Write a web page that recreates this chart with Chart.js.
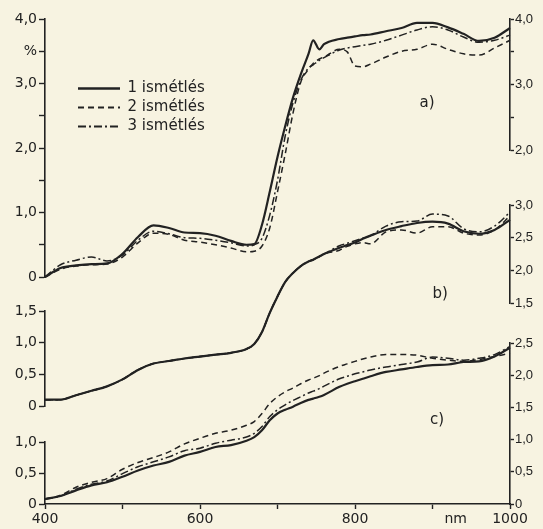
<!DOCTYPE html>
<html>
<head>
<meta charset="utf-8">
<script src="https://cdn.jsdelivr.net/npm/chart.js@4"></script>
<style>
  html, body { margin: 0; padding: 0; background: #f7f3e1; }
  canvas { display: block; }
</style>
</head>
<body>
<canvas id="chart" width="543" height="529"></canvas>
<script>
// --- data ---
const wavelengths = [400, 420, 440, 460, 480, 500, 520, 540, 560, 580, 600, 620, 640, 660, 670, 680, 690, 700, 710, 720,
  730, 740, 746, 754, 760, 780, 790, 800, 810, 820, 840, 860, 880, 900, 920, 940, 960, 980, 1000];

// a) panel
const a1 = [0.00, 0.14, 0.18, 0.20, 0.21, 0.36, 0.62, 0.80, 0.76, 0.69, 0.68, 0.64, 0.56, 0.50, 0.51, 0.81, 1.32, 1.86, 2.34, 2.78,
  3.14, 3.46, 3.67, 3.53, 3.61, 3.69, 3.71, 3.73, 3.75, 3.76, 3.81, 3.86, 3.94, 3.94, 3.87, 3.77, 3.66, 3.71, 3.86];
const a2 = [0.00, 0.12, 0.17, 0.19, 0.20, 0.31, 0.53, 0.68, 0.66, 0.57, 0.54, 0.50, 0.45, 0.39, 0.40, 0.48, 0.76, 1.32, 1.91, 2.54,
  3.02, 3.22, 3.31, 3.38, 3.41, 3.53, 3.49, 3.27, 3.26, 3.30, 3.41, 3.50, 3.53, 3.61, 3.53, 3.46, 3.44, 3.55, 3.67];
const a3 = [0.00, 0.19, 0.26, 0.31, 0.25, 0.34, 0.57, 0.71, 0.67, 0.61, 0.60, 0.57, 0.53, 0.48, 0.50, 0.60, 0.96, 1.50, 2.19, 2.70,
  3.05, 3.24, 3.29, 3.36, 3.40, 3.52, 3.55, 3.57, 3.59, 3.61, 3.67, 3.75, 3.83, 3.88, 3.83, 3.72, 3.64, 3.67, 3.75];

// b) panel
const b1 = [0.10, 0.10, 0.17, 0.24, 0.31, 0.42, 0.57, 0.67, 0.71, 0.75, 0.78, 0.81, 0.84, 0.90, 0.98, 1.17, 1.47, 1.73, 1.96, 2.10,
  2.21, 2.28, 2.31, 2.36, 2.40, 2.50, 2.54, 2.58, 2.64, 2.69, 2.78, 2.84, 2.89, 2.91, 2.88, 2.76, 2.72, 2.78, 2.94];
const b2 = [0.10, 0.10, 0.17, 0.24, 0.31, 0.42, 0.57, 0.67, 0.71, 0.75, 0.78, 0.81, 0.84, 0.90, 0.98, 1.17, 1.47, 1.73, 1.96, 2.10,
  2.21, 2.28, 2.31, 2.36, 2.40, 2.46, 2.52, 2.56, 2.58, 2.56, 2.75, 2.78, 2.73, 2.83, 2.83, 2.73, 2.70, 2.78, 3.00];
const b3 = [0.10, 0.10, 0.17, 0.24, 0.31, 0.42, 0.57, 0.67, 0.71, 0.75, 0.78, 0.81, 0.84, 0.90, 0.98, 1.17, 1.47, 1.73, 1.96, 2.10,
  2.21, 2.28, 2.31, 2.36, 2.40, 2.53, 2.57, 2.61, 2.65, 2.69, 2.84, 2.91, 2.92, 3.03, 3.00, 2.80, 2.75, 2.84, 3.06];

// c) panel
const c1 = [0.08, 0.13, 0.22, 0.30, 0.35, 0.44, 0.54, 0.62, 0.68, 0.78, 0.84, 0.92, 0.95, 1.02, 1.08, 1.19, 1.35, 1.46, 1.52, 1.57,
  1.63, 1.68, 1.70, 1.73, 1.76, 1.89, 1.94, 1.98, 2.02, 2.06, 2.13, 2.17, 2.21, 2.24, 2.25, 2.29, 2.30, 2.38, 2.52];
const c2 = [0.08, 0.14, 0.27, 0.35, 0.41, 0.56, 0.67, 0.75, 0.84, 0.97, 1.06, 1.14, 1.19, 1.27, 1.33, 1.46, 1.62, 1.73, 1.81, 1.87,
  1.94, 2.00, 2.03, 2.07, 2.11, 2.22, 2.26, 2.30, 2.34, 2.37, 2.41, 2.41, 2.40, 2.35, 2.32, 2.30, 2.33, 2.38, 2.43];
const c3 = [0.08, 0.13, 0.24, 0.32, 0.37, 0.49, 0.60, 0.68, 0.76, 0.86, 0.90, 0.98, 1.03, 1.08, 1.14, 1.25, 1.41, 1.52, 1.60, 1.67,
  1.73, 1.79, 1.82, 1.86, 1.90, 2.02, 2.06, 2.10, 2.13, 2.16, 2.21, 2.25, 2.29, 2.37, 2.35, 2.32, 2.35, 2.41, 2.54];

const repLabels = ['1 ismétlés', '2 ismétlés', '3 ismétlés'];

// ticks and their labels
const xTicks = [400, 500, 600, 700, 800, 900, 930, 1000];
const xLabels = ['400', '', '600', '', '800', '', 'nm', '1000'];
const aLeftTicks = [0, 0.5, 1, 1.5, 2, 2.5, 3, 3.5, 4];
const aLeftLabels = ['0', '', '1,0', '', '2,0', '', '3,0', '%', '4,0'];
const bLeftTicks = [0, 0.5, 1, 1.5];
const bLeftLabels = ['0', '0,5', '1,0', '1,5'];
const cLeftTicks = [0, 0.5, 1];
const cLeftLabels = ['0', '0,5', '1,0'];
const aRightTicks = [2, 2.5, 3, 3.5, 4];
const aRightLabels = ['2,0', '', '3,0', '', '4,0'];
const bRightTicks = [1.5, 2, 2.5, 3];
const bRightLabels = ['1,5', '2,0', '2,5', '3,0'];
const cRightTicks = [0, 0.5, 1, 1.5, 2, 2.5];
const cRightLabels = ['0', '0,5', '1,0', '1,5', '2,0', '2,5'];

// --- styling ---
const ink = '#222';
const repStyles = [
  { borderWidth: 2.2, borderDash: [] },
  { borderWidth: 1.5, borderDash: [6, 4] },
  { borderWidth: 1.5, borderDash: [8, 3, 2, 3] }
];

function series(values, rep, axisId) {
  return {
    label: repLabels[rep],
    data: wavelengths.map((w, i) => ({ x: w, y: values[i] })),
    yAxisID: axisId,
    borderColor: ink,
    backgroundColor: ink,
    borderWidth: repStyles[rep].borderWidth,
    borderDash: repStyles[rep].borderDash,
    pointRadius: 0,
    clip: false,
    cubicInterpolationMode: 'monotone'
  };
}

// stacked y axes: each panel has its own bit of the left / right edge
function yAxis(pos, order, weight, ticks, labels) {
  const left = pos === 'left';
  return {
    type: 'linear', axis: 'y', position: pos, stack: pos, stackWeight: weight, weight: order,
    min: ticks[0], max: ticks[ticks.length - 1],
    afterBuildTicks: s => { s.ticks = ticks.map(v => ({ value: v })); },
    afterFit: s => { s.width = left ? 45 : 33; },
    border: { color: ink, width: 1.6 },
    grid: { drawOnChartArea: false, tickLength: left ? 6 : 4, tickColor: ink, tickWidth: 1.4 },
    ticks: {
      color: ink, padding: left ? 2 : 1, autoSkip: false,
      font: left ? { family: 'DejaVu Sans', size: 14 } : { family: 'Liberation Sans', size: 13 },
      callback: (v, i) => labels[i]
    }
  };
}

function gapAxis(pos, order, weight) {
  return {
    type: 'linear', axis: 'y', position: pos, stack: pos, stackWeight: weight, weight: order,
    afterFit: s => { s.width = pos === 'left' ? 45 : 33; },
    grid: { display: false }, border: { display: false }, ticks: { display: false }
  };
}

// panel tags a) b) c), placed through the scales
const panelTags = [
  { text: 'a)', nm: 893, axis: 'aL', value: 2.70 },
  { text: 'b)', nm: 910, axis: 'bL', value: 1.77 },
  { text: 'c)', nm: 906, axis: 'cL', value: 1.35 }
];

const panelText = {
  id: 'panelText',
  afterDatasetsDraw(chart) {
    const { ctx, scales } = chart;
    ctx.save();
    ctx.font = '15px "DejaVu Sans"';
    ctx.fillStyle = ink;
    ctx.textAlign = 'center';
    ctx.textBaseline = 'middle';
    panelTags.forEach(t => {
      ctx.fillText(t.text, scales.x.getPixelForValue(t.nm), scales[t.axis].getPixelForValue(t.value));
    });
    ctx.restore();
  }
};

// the legend sits inside the plot, upper left
const moveLegend = {
  id: 'moveLegend',
  afterLayout(chart) {
    chart.legend.left = 74;
    chart.legend.top = 77;
  }
};

new Chart(document.getElementById('chart'), {
  type: 'line',
  data: {
    datasets: [
      series(a1, 0, 'aL'), series(a2, 1, 'aL'), series(a3, 2, 'aL'),
      series(b1, 0, 'bL'), series(b2, 1, 'bL'), series(b3, 2, 'bL'),
      series(c1, 0, 'cL'), series(c2, 1, 'cL'), series(c3, 2, 'cL')
    ]
  },
  options: {
    responsive: false,
    animation: false,
    layout: { padding: { top: 19, left: 0, right: 0, bottom: 0 } },
    plugins: {
      legend: {
        position: 'chartArea',
        align: 'start',
        labels: {
          filter: item => item.datasetIndex < 3,
          // keep each dataset's dash pattern on its legend line
          generateLabels: chart => Chart.defaults.plugins.legend.labels.generateLabels(chart).map(item => {
            const ds = chart.data.datasets[item.datasetIndex];
            return { ...item, lineDash: ds.borderDash, lineWidth: ds.borderWidth + 0.4 };
          }),
          usePointStyle: true,
          pointStyle: 'line',
          pointStyleWidth: 42,
          padding: 4,
          color: ink,
          font: { family: 'DejaVu Sans', size: 15 }
        }
      },
      tooltip: { enabled: false }
    },
    scales: {
      x: {
        type: 'linear', min: 400, max: 1000,
        afterBuildTicks: s => { s.ticks = xTicks.map(v => ({ value: v })); },
        afterFit: s => { s.height = 25; },
        border: { color: ink, width: 1.6 },
        grid: {
          drawOnChartArea: false, tickLength: 5, tickWidth: 1.4,
          tickColor: c => (c.tick && c.tick.value === 930 ? 'rgba(0,0,0,0)' : ink)
        },
        ticks: {
          color: ink, padding: 2, autoSkip: false, maxRotation: 0,
          font: { family: 'DejaVu Sans', size: 14 },
          callback: (v, i) => xLabels[i]
        }
      },
      aL: yAxis('left', 5, 258, aLeftTicks, aLeftLabels),
      gapL1: gapAxis('left', 4, 34),
      bL: yAxis('left', 3, 95, bLeftTicks, bLeftLabels),
      gapL2: gapAxis('left', 2, 36),
      cL: yAxis('left', 1, 62, cLeftTicks, cLeftLabels),
      aR: yAxis('right', 1, 131, aRightTicks, aRightLabels),
      gapR1: gapAxis('right', 2, 55),
      bR: yAxis('right', 3, 98, bRightTicks, bRightLabels),
      gapR2: gapAxis('right', 4, 40),
      cR: yAxis('right', 5, 161, cRightTicks, cRightLabels)
    }
  },
  plugins: [panelText, moveLegend]
});
</script>
</body>
</html>
